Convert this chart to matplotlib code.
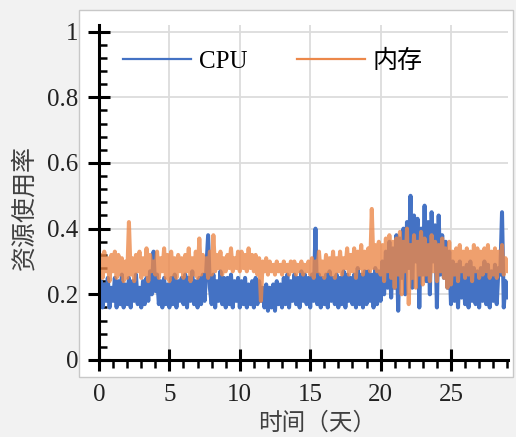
import numpy as np
import matplotlib
matplotlib.use("Agg")
import matplotlib.pyplot as plt
from matplotlib.patches import Rectangle
from matplotlib.lines import Line2D
from matplotlib.ticker import MultipleLocator, FixedLocator

# samples every 3 hours (8 per day), days 0..29
samples_per_day = 8

cpu_usage = [
    0.17, 0.24, 0.16, 0.23, 0.18, 0.25, 0.16, 0.22,
    0.18, 0.25, 0.16, 0.24, 0.17, 0.26, 0.16, 0.23,
    0.17, 0.25, 0.16, 0.24, 0.18, 0.26, 0.17, 0.22,
    0.16, 0.24, 0.17, 0.25, 0.18, 0.27, 0.20, 0.33,
    0.21, 0.26, 0.17, 0.24, 0.16, 0.25, 0.17, 0.23,
    0.16, 0.25, 0.17, 0.26, 0.16, 0.24, 0.18, 0.25,
    0.17, 0.26, 0.16, 0.25, 0.18, 0.27, 0.17, 0.24,
    0.16, 0.25, 0.17, 0.26, 0.18, 0.28, 0.38, 0.22,
    0.17, 0.26, 0.16, 0.24, 0.18, 0.27, 0.17, 0.25,
    0.16, 0.25, 0.17, 0.26, 0.16, 0.24, 0.18, 0.25,
    0.16, 0.24, 0.17, 0.25, 0.16, 0.23, 0.17, 0.24,
    0.16, 0.25, 0.17, 0.24, 0.18, 0.22, 0.16, 0.23,
    0.15, 0.22, 0.16, 0.23, 0.15, 0.24, 0.17, 0.23,
    0.16, 0.25, 0.17, 0.26, 0.16, 0.24, 0.18, 0.26,
    0.17, 0.25, 0.16, 0.27, 0.18, 0.26, 0.17, 0.25,
    0.16, 0.26, 0.18, 0.40, 0.17, 0.26, 0.16, 0.25,
    0.17, 0.26, 0.16, 0.27, 0.18, 0.25, 0.17, 0.26,
    0.16, 0.25, 0.17, 0.27, 0.16, 0.26, 0.18, 0.25,
    0.17, 0.26, 0.16, 0.28, 0.17, 0.26, 0.16, 0.27,
    0.17, 0.27, 0.18, 0.26, 0.16, 0.28, 0.17, 0.27,
    0.18, 0.30, 0.20, 0.33, 0.22, 0.36, 0.19, 0.34,
    0.22, 0.38, 0.15, 0.37, 0.25, 0.40, 0.20, 0.42,
    0.28, 0.50, 0.22, 0.44, 0.30, 0.43, 0.16, 0.40,
    0.26, 0.47, 0.24, 0.42, 0.20, 0.45, 0.30, 0.41,
    0.16, 0.44, 0.26, 0.38, 0.25, 0.36, 0.22, 0.33,
    0.17, 0.30, 0.18, 0.29, 0.16, 0.30, 0.19, 0.28,
    0.17, 0.29, 0.16, 0.30, 0.18, 0.28, 0.17, 0.27,
    0.16, 0.28, 0.18, 0.30, 0.17, 0.29, 0.16, 0.27,
    0.18, 0.29, 0.17, 0.28, 0.26, 0.45, 0.16, 0.24,
    0.19,
]

mem_usage = [
    0.26, 0.32, 0.25, 0.33, 0.27, 0.31, 0.24, 0.32,
    0.27, 0.33, 0.25, 0.32, 0.26, 0.31, 0.24, 0.30,
    0.25, 0.42, 0.26, 0.31, 0.24, 0.32, 0.27, 0.33,
    0.25, 0.31, 0.26, 0.34, 0.24, 0.32, 0.27, 0.30,
    0.26, 0.33, 0.25, 0.31, 0.27, 0.34, 0.25, 0.32,
    0.24, 0.33, 0.26, 0.31, 0.25, 0.32, 0.27, 0.31,
    0.25, 0.32, 0.27, 0.34, 0.24, 0.31, 0.26, 0.33,
    0.25, 0.37, 0.26, 0.32, 0.27, 0.31, 0.25, 0.33,
    0.26, 0.38, 0.27, 0.32, 0.28, 0.33, 0.26, 0.31,
    0.27, 0.32, 0.28, 0.34, 0.27, 0.31, 0.28, 0.33,
    0.27, 0.33, 0.28, 0.32, 0.27, 0.34, 0.28, 0.32,
    0.27, 0.32, 0.26, 0.31, 0.18, 0.30, 0.27, 0.31,
    0.26, 0.30, 0.27, 0.29, 0.26, 0.30, 0.27, 0.29,
    0.26, 0.30, 0.27, 0.29, 0.26, 0.30, 0.27, 0.30,
    0.26, 0.29, 0.27, 0.30, 0.26, 0.29, 0.27, 0.30,
    0.26, 0.31, 0.25, 0.30, 0.27, 0.33, 0.26, 0.30,
    0.25, 0.32, 0.27, 0.31, 0.26, 0.33, 0.25, 0.31,
    0.27, 0.33, 0.26, 0.31, 0.28, 0.34, 0.26, 0.32,
    0.27, 0.34, 0.25, 0.33, 0.28, 0.35, 0.26, 0.33,
    0.28, 0.34, 0.27, 0.46, 0.28, 0.35, 0.27, 0.36,
    0.26, 0.35, 0.24, 0.37, 0.27, 0.38, 0.25, 0.36,
    0.22, 0.37, 0.26, 0.39, 0.20, 0.36, 0.27, 0.40,
    0.17, 0.35, 0.25, 0.38, 0.22, 0.36, 0.26, 0.39,
    0.23, 0.37, 0.26, 0.35, 0.24, 0.38, 0.27, 0.36,
    0.24, 0.35, 0.27, 0.37, 0.25, 0.34, 0.22, 0.36,
    0.23, 0.33, 0.26, 0.34, 0.24, 0.35, 0.27, 0.33,
    0.25, 0.34, 0.26, 0.33, 0.24, 0.35, 0.27, 0.34,
    0.25, 0.33, 0.26, 0.34, 0.27, 0.35, 0.25, 0.33,
    0.26, 0.34, 0.25, 0.33, 0.27, 0.35, 0.26, 0.31,
    0.27,
]

series_names = ["CPU", "内存"]
y_ticks = [0, 0.2, 0.4, 0.6, 0.8, 1.0]
y_tick_labels = ["0", "0.2", "0.4", "0.6", "0.8", "1"]
x_ticks = [0, 5, 10, 15, 20, 25]

cpu_color = "#4472c4"
mem_color = "#ec884a"
serif = ["Liberation Serif", "Noto Sans CJK SC"]
cjk = ["Noto Sans CJK SC", "DejaVu Sans"]

days = np.arange(len(cpu_usage)) / samples_per_day

W, H = 516, 437
fig = plt.figure(figsize=(W / 100, H / 100), dpi=100, facecolor="#f2f2f2")

# white panel behind the plot
box = Rectangle((79 / W, 1 - 377 / H), (513 - 79) / W, (377 - 10) / H,
                transform=fig.transFigure, facecolor="white",
                edgecolor="#c8c8c8", lw=1, zorder=-1)
fig.patches.append(box)

ax = fig.add_axes([99 / W, 1 - 360 / H, (508 - 99) / W, (360 - 25) / H])
ax.set_facecolor("none")

ax.plot(days, cpu_usage, color=cpu_color, lw=2.9, zorder=3,
        solid_joinstyle="round", solid_capstyle="round")
ax.plot(days, mem_usage, color=mem_color, lw=2.9, alpha=0.8, zorder=4,
        solid_joinstyle="round", solid_capstyle="round")

ax.set_xlim(0, 29.05)
ax.set_ylim(0, 1.02)

for side in ("top", "right"):
    ax.spines[side].set_visible(False)
for side in ("left", "bottom"):
    ax.spines[side].set_linewidth(2.2)
    ax.spines[side].set_color("black")
    ax.spines[side].set_zorder(5)

ax.yaxis.set_major_locator(FixedLocator(y_ticks))
ax.set_yticklabels(y_tick_labels)
ax.yaxis.set_minor_locator(MultipleLocator(0.04))
ax.xaxis.set_major_locator(FixedLocator(x_ticks))
ax.xaxis.set_minor_locator(MultipleLocator(1))

ax.tick_params(which="major", direction="inout", length=16, width=2.2,
               color="black", labelsize=18, labelcolor="#222222")
ax.tick_params(axis="y", which="major", pad=7)
ax.tick_params(axis="x", which="major", pad=9)
ax.tick_params(axis="y", which="minor", direction="in", length=6, width=1.8)
ax.tick_params(axis="x", which="minor", direction="out", length=6, width=1.8)
for lab in ax.get_xticklabels() + ax.get_yticklabels():
    lab.set_family(serif)

ax.grid(True, which="major", color="#dcdcdc", lw=1.3, zorder=0)
ax.set_axisbelow(True)

handles = [Line2D([], [], color=cpu_color, lw=1.6),
           Line2D([], [], color=mem_color, lw=1.6)]
ax.legend(handles, series_names, loc="center left",
          bbox_to_anchor=((123 - 99) / 409, (360 - 61) / 335),
          ncol=2, frameon=False, borderpad=0, borderaxespad=0,
          handlelength=2.7, handletextpad=0.32, columnspacing=2.0,
          prop={"family": serif, "size": 18})

fig.text(24 / W, 1 - 208 / H, "资源使用率", rotation=90, ha="center",
         va="center", fontsize=18, color="#404040", family=cjk)
fig.text(317 / W, 1 - 423 / H, "时间（天）", ha="center", va="center",
         fontsize=17, color="#404040", family=cjk)

fig.savefig("out.png", dpi=100, facecolor=fig.get_facecolor())
